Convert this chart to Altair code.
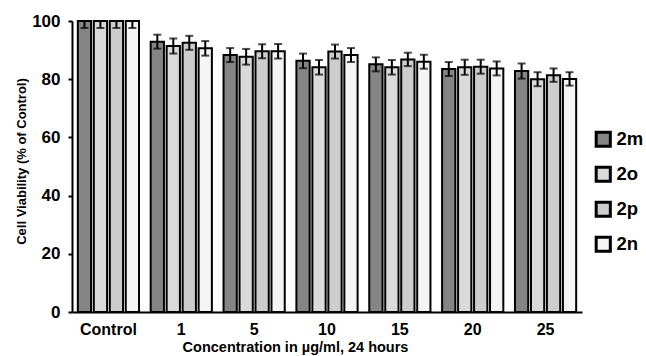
import altair as alt
import pandas as pd

groups = ["Control", "1", "5", "10", "15", "20", "25"]
series = ["2m", "2o", "2p", "2n"]
v_2m = [100, 92.9, 88.3, 86.3, 85.1, 83.5, 82.8]
v_2o = [100, 91.4, 87.7, 84.1, 84.1, 84.1, 80.0]
v_2p = [100, 92.5, 89.6, 89.5, 86.8, 84.3, 81.4]
v_2n = [100, 90.6, 89.6, 88.3, 86.0, 83.7, 80.1]
e_2m = [2.4, 2.4, 2.4, 2.5, 2.4, 2.4, 2.6]
e_2o = [2.4, 2.6, 2.7, 2.5, 2.5, 2.6, 2.4]
e_2p = [2.4, 2.4, 2.4, 2.4, 2.3, 2.4, 2.3]
e_2n = [2.4, 2.5, 2.5, 2.4, 2.4, 2.4, 2.3]

vals = {"2m": v_2m, "2o": v_2o, "2p": v_2p, "2n": v_2n}
errs = {"2m": e_2m, "2o": e_2o, "2p": e_2p, "2n": e_2n}
rows = []
for s in series:
    for g, v, e in zip(groups, vals[s], errs[s]):
        rows.append({"group": g, "series": s, "value": v,
                     "lo": v - e, "hi": min(v + e, 100)})
df = pd.DataFrame(rows)

FONT = "Liberation Sans"
fills = ["#858585", "#dadada", "#cdcdcd", "#f5f5f5"]

x = alt.X("group:N", sort=groups,
          scale=alt.Scale(paddingInner=0.16, paddingOuter=0.08),
          axis=alt.Axis(title="Concentration in µg/ml, 24 hours", labelAngle=0,
                        ticks=False, domainWidth=2, domainColor="black",
                        labelFont=FONT, labelFontSize=16, labelFontWeight="bold",
                        labelColor="black", labelPadding=9,
                        titleFont=FONT, titleFontSize=14.5, titleFontWeight="bold",
                        titleColor="black", titlePadding=3, titleX=223,
                        titleAlign="center"))
xo = alt.XOffset("series:N", sort=series, scale=alt.Scale(paddingInner=0.17))

y_axis = alt.Axis(title="Cell Viability (% of Control)",
                  values=list(range(0, 101, 10)),
                  labelExpr="datum.value % 20 == 0 ? datum.label : ''",
                  grid=False, tickSize=4, tickWidth=2, tickColor="black",
                  domainWidth=2, domainColor="black",
                  labelFont=FONT, labelFontSize=17, labelFontWeight="bold",
                  labelColor="black", labelPadding=8,
                  titleFont=FONT, titleFontSize=13, titleFontWeight="bold",
                  titleColor="black", titlePadding=3, titleY=140)

bars = alt.Chart(df).mark_bar(stroke="black", strokeWidth=2).encode(
    x=x, xOffset=xo,
    y=alt.Y("value:Q", scale=alt.Scale(domain=[0, 100], nice=False), axis=y_axis),
    fill=alt.Fill("series:N", sort=series,
                  scale=alt.Scale(domain=series, range=fills),
                  legend=alt.Legend(title=None, orient="none", legendX=522, legendY=109,
                                    symbolType="square", symbolSize=200,
                                    symbolStrokeColor="black", symbolStrokeWidth=3,
                                    labelFont=FONT, labelFontSize=18.5,
                                    labelFontWeight="bold", labelColor="black",
                                    rowPadding=8, labelOffset=4)),
)

rules = alt.Chart(df).mark_rule(color="black", strokeWidth=2).encode(
    x=x, xOffset=xo, y="lo:Q", y2="hi:Q")
cap_lo = alt.Chart(df).mark_tick(color="black", thickness=2, size=8).encode(
    x=x, xOffset=xo, y="lo:Q")
cap_hi = alt.Chart(df).mark_tick(color="black", thickness=2, size=8).encode(
    x=x, xOffset=xo, y="hi:Q")

chart = alt.layer(bars, rules, cap_lo, cap_hi).properties(
    width=510, height=291,
    autosize=alt.AutoSizeParams(type="none"),
    padding={"left": 72, "top": 21, "right": 64, "bottom": 44},
    background="white",
).configure_view(stroke=None)

chart.save("out.html", embed_options={"renderer": "svg", "actions": False})
